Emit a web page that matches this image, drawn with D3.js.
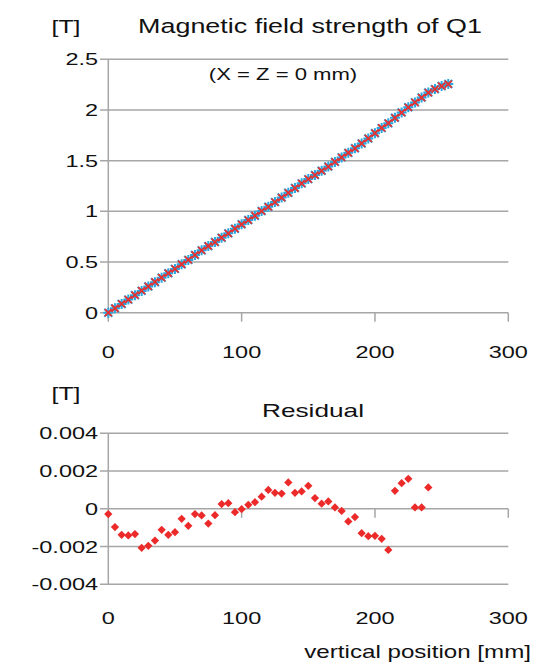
<!DOCTYPE html>
<html>
<head>
<meta charset="utf-8">
<script src="https://cdn.jsdelivr.net/npm/d3@7"></script>
<style>
  body { margin: 0; background: #fff; }
  svg { display: block; font-family: "Liberation Sans", Arial, sans-serif; }
</style>
</head>
<body>
<svg id="chart" width="533" height="666"></svg>
<script>
// Data
const positions = [0, 5, 10, 15, 20, 25, 30, 35, 40, 45, 50, 55, 60, 65, 70, 75, 80, 85, 90, 95,
    100, 105, 110, 115, 120, 125, 130, 135, 140, 145, 150, 155, 160, 165, 170, 175, 180, 185, 190, 195,
    200, 205, 210, 215, 220, 225, 230, 235, 240, 245, 250, 255];

// red x markers
const fieldFit = [0.000, 0.044, 0.087, 0.130, 0.174, 0.217, 0.260, 0.303, 0.347, 0.390,
    0.433, 0.478, 0.522, 0.570, 0.615, 0.658, 0.697, 0.740, 0.783, 0.829,
    0.872, 0.914, 0.957, 1.002, 1.045, 1.090, 1.136, 1.182, 1.230, 1.275,
    1.317, 1.358, 1.400, 1.442, 1.488, 1.532, 1.578, 1.622, 1.670, 1.720,
    1.772, 1.823, 1.870, 1.922, 1.975, 2.025, 2.075, 2.123, 2.172, 2.206,
    2.236, 2.256];

// blue star markers
const fieldMeas = [0.000, 0.043, 0.086, 0.129, 0.173, 0.215, 0.258, 0.301, 0.346, 0.389,
    0.432, 0.478, 0.521, 0.570, 0.615, 0.657, 0.697, 0.740, 0.783, 0.829,
    0.872, 0.914, 0.957, 1.003, 1.046, 1.091, 1.137, 1.183, 1.231, 1.276,
    1.318, 1.359, 1.400, 1.442, 1.488, 1.532, 1.577, 1.622, 1.669, 1.719,
    1.771, 1.821, 1.868, 1.923, 1.976, 2.027, 2.075, 2.123, 2.173, 2.206,
    2.236, 2.256];

const residualPos = [0, 5, 10, 15, 20, 25, 30, 35, 40, 45, 50, 55, 60, 65, 70, 75, 80, 85, 90, 95,
    100, 105, 110, 115, 120, 125, 130, 135, 140, 145, 150, 155, 160, 165, 170, 175, 180, 185, 190, 195,
    200, 205, 210, 215, 220, 225, 230, 235, 240];

const residual = [-0.00028, -0.00097, -0.00138, -0.00141, -0.00134, -0.00207, -0.00196, -0.00168, -0.00111, -0.00138,
    -0.00124, -0.00053, -0.00090, -0.00028, -0.00035, -0.00078, -0.00034, 0.00025, 0.00030, -0.00018,
    -0.00002, 0.00021, 0.00035, 0.00064, 0.00100, 0.00085, 0.00081, 0.00140, 0.00085, 0.00092,
    0.00122, 0.00057, 0.00027, 0.00039, 0.00007, -0.00011, -0.00067, -0.00044, -0.00129, -0.00145,
    -0.00143, -0.00159, -0.00218, 0.00095, 0.00136, 0.00159, 0.00007, 0.00007, 0.00113];

const xTicks = [0, 100, 200, 300];
const fieldTicks = [0, 0.5, 1, 1.5, 2, 2.5];
const fieldTickLabels = ["0", "0.5", "1", "1.5", "2", "2.5"];
const resTicks = [-0.004, -0.002, 0, 0.002, 0.004];
const resTickLabels = ["-0.004", "-0.002", "0", "0.002", "0.004"];

// source picture is stretched sideways
const SX = 1.38;
const GRID = "#a6a6a6";
const TEXT = "#111";

const svg = d3.select("#chart");

function label(x, y, txt, size, anchor) {
    return svg.append("text")
        .attr("transform", `translate(${x},${y}) scale(${SX},1)`)
        .attr("text-anchor", anchor || "middle")
        .attr("font-size", size)
        .attr("fill", TEXT)
        .text(txt);
}

// ---------- top chart ----------
const x1 = d3.scaleLinear().domain([0, 300]).range([108.3, 508.3]);
const y1 = d3.scaleLinear().domain([0, 2.5]).range([312.7, 59.3]);

const topG = svg.append("g");

topG.selectAll(".grid")
    .data(fieldTicks)
    .enter().append("line")
    .attr("x1", 100).attr("x2", x1(300))
    .attr("y1", d => y1(d)).attr("y2", d => y1(d))
    .attr("stroke", GRID).attr("stroke-width", 1.5);

topG.append("line")
    .attr("x1", x1(0)).attr("x2", x1(0))
    .attr("y1", y1(2.5)).attr("y2", y1(0) + 9)
    .attr("stroke", GRID).attr("stroke-width", 1.5);

topG.selectAll(".xtick")
    .data(xTicks.slice(1))
    .enter().append("line")
    .attr("x1", d => x1(d)).attr("x2", d => x1(d))
    .attr("y1", y1(0)).attr("y2", y1(0) + 9)
    .attr("stroke", GRID).attr("stroke-width", 1.5);

fieldTicks.forEach((t, i) => label(98, y1(t) + 6, fieldTickLabels[i], 17, "end"));
xTicks.forEach(t => label(x1(t), 358, t, 17));

// blue asterisks
topG.selectAll(".meas")
    .data(positions)
    .enter().append("path")
    .attr("transform", (d, i) => `translate(${x1(d)},${y1(fieldMeas[i])})`)
    .attr("d", "M-4,-4L4,4M-4,4L4,-4M0,-5L0,5M-5,0L5,0")
    .attr("stroke", "#2ba7e0").attr("stroke-width", 2).attr("fill", "none");

// red crosses
topG.selectAll(".fit")
    .data(positions)
    .enter().append("path")
    .attr("transform", (d, i) => `translate(${x1(d)},${y1(fieldFit[i])})`)
    .attr("d", "M-3.5,-3.5L3.5,3.5M-3.5,3.5L3.5,-3.5")
    .attr("stroke", "#e8302f").attr("stroke-width", 1.8).attr("fill", "none");

label(66, 33, "[T]", 18);
label(310, 33, "Magnetic field strength of Q1", 19.5);
label(283, 80, "(X = Z = 0 mm)", 16);

// ---------- residual chart ----------
const y2 = d3.scaleLinear().domain([-0.004, 0.004]).range([584.3, 433.3]);

const botG = svg.append("g");

botG.selectAll(".grid")
    .data(resTicks)
    .enter().append("line")
    .attr("x1", 100).attr("x2", x1(300))
    .attr("y1", d => y2(d)).attr("y2", d => y2(d))
    .attr("stroke", GRID).attr("stroke-width", 1.5);

botG.append("line")
    .attr("x1", x1(0)).attr("x2", x1(0))
    .attr("y1", y2(0.004)).attr("y2", y2(-0.004))
    .attr("stroke", GRID).attr("stroke-width", 1.5);

botG.selectAll(".xtick")
    .data(xTicks.slice(1))
    .enter().append("line")
    .attr("x1", d => x1(d)).attr("x2", d => x1(d))
    .attr("y1", y2(0)).attr("y2", y2(0) + 9)
    .attr("stroke", GRID).attr("stroke-width", 1.5);

resTicks.forEach((t, i) => label(98, y2(t) + 6, resTickLabels[i], 17, "end"));
xTicks.forEach(t => label(x1(t), 624, t, 17));

botG.selectAll(".res")
    .data(residualPos)
    .enter().append("path")
    .attr("transform", (d, i) => `translate(${x1(d)},${y2(residual[i])}) rotate(45)`)
    .attr("d", d3.symbol(d3.symbolSquare, 34))
    .attr("fill", "#ec2a2a");

label(66, 400, "[T]", 18);
label(313, 417, "Residual", 19);
label(531, 658, "vertical position [mm]", 17.5, "end");
</script>
</body>
</html>
